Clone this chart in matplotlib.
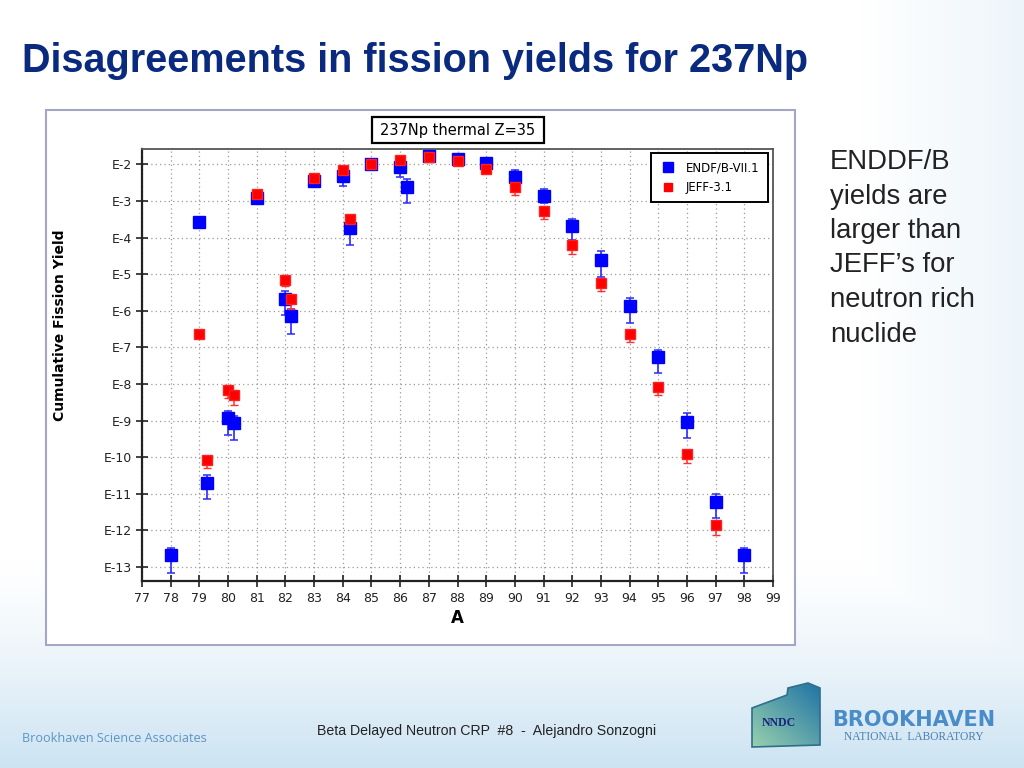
import numpy as np
import matplotlib
matplotlib.use('Agg')
import matplotlib.pyplot as plt
from matplotlib.patches import Rectangle, Polygon
from matplotlib.lines import Line2D
from matplotlib.ticker import FixedLocator, FixedFormatter, NullLocator

# data: mass number A and log10 of cumulative yield
endf_A = [78, 79, 79.25, 80, 80.2, 81, 82, 82.2, 83, 84, 84.25, 85, 86, 86.25,
          87, 88, 89, 90, 91, 92, 93, 94, 95, 96, 97, 98]
endf_logy = [-12.68, -3.57, -10.70, -8.94, -9.06, -2.93, -5.68, -6.14, -2.45, -2.31,
             -3.73, -1.99, -2.07, -2.61, -1.77, -1.84, -1.95, -2.34, -2.87, -3.68,
             -4.61, -5.87, -7.27, -9.03, -11.22, -12.68]
endf_err_lo = [0.49, 0.16, 0.44, 0.44, 0.47, 0.14, 0.44, 0.50, 0.14, 0.27,
               0.48, 0.0, 0.27, 0.45, 0.0, 0.0, 0.05, 0.14, 0.19, 0.38,
               0.46, 0.45, 0.44, 0.45, 0.45, 0.49]
endf_err_hi = [0.19, 0.0, 0.21, 0.21, 0.20, 0.0, 0.22, 0.18, 0.0, 0.0,
               0.0, 0.0, 0.0, 0.21, 0.0, 0.0, 0.0, 0.20, 0.20, 0.20,
               0.25, 0.21, 0.20, 0.23, 0.23, 0.20]

jeff_A = [79, 79.25, 80, 80.2, 81, 82, 82.2, 83, 84, 84.25, 85, 86, 87, 88, 89,
          90, 91, 92, 93, 94, 95, 96, 97]
jeff_logy = [-6.64, -10.08, -8.17, -8.30, -2.82, -5.16, -5.69, -2.36, -2.16, -3.49,
             -1.99, -1.88, -1.81, -1.90, -2.13, -2.63, -3.27, -4.20, -5.23, -6.64,
             -8.09, -9.90, -11.86]
jeff_err_lo = [0.0, 0.22, 0.22, 0.27, 0.05, 0.16, 0.25, 0.05, 0.05, 0.1,
               0.0, 0.0, 0.0, 0.0, 0.05, 0.22, 0.22, 0.25, 0.22, 0.22,
               0.22, 0.25, 0.25]
jeff_err_hi = [0.0, 0.08, 0.08, 0.1, 0.0, 0.08, 0.08, 0.0, 0.0, 0.0,
               0.0, 0.0, 0.0, 0.0, 0.0, 0.08, 0.0, 0.08, 0.08, 0.08,
               0.08, 0.08, 0.08]

decades = list(range(2, 14))
x_ticks = list(range(77, 100))

bullet_lines = ['ENDDF/B', 'yields are', 'larger than', 'JEFF\u2019s for',
                'neutron rich', 'nuclide']


def to_err(logy, lo, hi):
    logy = np.array(logy)
    y = 10.0 ** logy
    return y, [y - 10.0 ** (logy - np.array(lo)), 10.0 ** (logy + np.array(hi)) - y]


W, H = 1024, 768
fig = plt.figure(figsize=(10.24, 7.68), dpi=100)

# slide background in pixel coords
bg = fig.add_axes([0, 0, 1, 1], zorder=-10)
bg.set_xlim(0, W)
bg.set_ylim(H, 0)
bg.axis('off')
yy, xx = np.mgrid[0:H, 0:W]
a_bot = np.clip((yy - 560) / 208.0, 0, 1) ** 1.3
a_right = np.clip((xx - 860) / 164.0, 0, 1) * 0.35
alpha = np.maximum(a_bot, a_right)[..., None]
tint = np.array([0.80, 0.89, 0.95])
grad = (1 - alpha) * np.ones(3) + alpha * tint
bg.imshow(grad, extent=[0, W, H, 0], aspect='auto', zorder=0)

# outer chart frame
bg.add_patch(Rectangle((46, 110), 749, 535, facecolor='white',
                       edgecolor='#a5a5c8', lw=1.5, zorder=1))

# chart title box
bg.add_patch(Rectangle((372, 117), 172, 26, facecolor='white',
                       edgecolor='black', lw=1.6, zorder=2))
bg.text(458, 130, '237Np thermal Z=35', ha='center', va='center',
        fontsize=10.5, family='DejaVu Sans', zorder=3)

# slide title
bg.text(22, 72, 'Disagreements in fission yields for 237Np', fontsize=28.5,
        fontweight='bold', color='#0a2a80', family='Liberation Sans',
        va='baseline', ha='left', zorder=3)

# side note
for i, line in enumerate(bullet_lines):
    bg.text(830, 169 + i * 34.5, line, fontsize=19.8, color='#222222',
            family='Liberation Sans', va='baseline', ha='left', zorder=3)

# axis labels
bg.text(60, 325, 'Cumulative Fission Yield', rotation=90, ha='center',
        va='center', fontsize=10, fontweight='bold', zorder=3)
bg.text(457, 618, 'A', ha='center', va='center', fontsize=12,
        fontweight='bold', zorder=3)

# footer
bg.text(22, 738, 'Brookhaven Science Associates', fontsize=9.1,
        color='#5b96c4', family='Open Sans', va='center', ha='left', zorder=3)
bg.text(317, 731, 'Beta Delayed Neutron CRP  #8  -  Alejandro Sonzogni',
        fontsize=10.2, color='#222222', family='Liberation Sans',
        va='center', ha='left', zorder=3)

# NNDC logo
house = [(752, 747), (752, 708), (787, 695), (788, 688), (808, 683),
         (820, 688), (820, 745)]
poly = Polygon(house, closed=True, facecolor='none', edgecolor='#2f6f8c',
               lw=1.2, zorder=4)
bg.add_patch(poly)
gy, gx = np.mgrid[0:60, 0:70]
g = np.clip((gx / 70.0 - gy / 60.0 + 1) / 2.0, 0, 1)[..., None]
c1 = np.array([0.60, 0.82, 0.68])
c2 = np.array([0.12, 0.45, 0.65])
logo = (1 - g) * c1 + g * c2
im = bg.imshow(logo, extent=[752, 820, 747, 683], aspect='auto', zorder=3)
im.set_clip_path(poly)
bg.text(779, 723, 'NNDC', fontsize=8.5, fontweight='bold', color='#1a237e',
        family='Liberation Serif', ha='center', va='center', zorder=5)
bg.text(914, 720, 'BROOKHAVEN', fontsize=15, fontweight='bold',
        color='#4a8cc8', family='DejaVu Sans', ha='center', va='center', zorder=5)
bg.text(914, 737, 'NATIONAL  LABORATORY', fontsize=8.3, color='#4a7fb0',
        family='Liberation Serif', ha='center', va='center', zorder=5)

# main plot
ax = fig.add_axes([142 / W, 1 - 581 / H, 631 / W, 432 / H])
ax.set_facecolor('white')
ax.set_yscale('log')
ax.set_xlim(77, 99)
ax.set_ylim(10 ** -13.38, 10 ** -1.58)

ey, eerr = to_err(endf_logy, endf_err_lo, endf_err_hi)
jy, jerr = to_err(jeff_logy, jeff_err_lo, jeff_err_hi)
ax.errorbar(endf_A, ey, yerr=eerr, fmt='s', color='#0000ff', ms=8.5,
            mec='#0000ff', ecolor='#2a2aff', elinewidth=1.2, capsize=3,
            capthick=1.1, zorder=3)
ax.errorbar(jeff_A, jy, yerr=jerr, fmt='s', color='#ff0000', ms=7,
            mec='#ff2020', ecolor='#ff3030', elinewidth=1.1, capsize=2.6,
            capthick=1.0, zorder=4)

ax.yaxis.set_major_locator(FixedLocator([10.0 ** -d for d in decades]))
ax.yaxis.set_major_formatter(FixedFormatter(['E-%d' % d for d in decades]))
ax.yaxis.set_minor_locator(NullLocator())
ax.set_xticks(x_ticks)
ax.set_xticklabels([str(v) for v in x_ticks])
ax.tick_params(axis='both', direction='inout', length=8, width=1.2,
               labelsize=9, color='#222222', labelcolor='#222222')
ax.tick_params(axis='y', pad=3)
ax.tick_params(axis='x', pad=4)
ax.grid(True, which='major', color='#9a9a9a', linestyle=(0, (1, 2.5)), lw=0.9)
for side in ['left', 'bottom']:
    ax.spines[side].set_linewidth(1.6)
    ax.spines[side].set_color('#222222')
for side in ['top', 'right']:
    ax.spines[side].set_linewidth(1.3)
    ax.spines[side].set_color('#555555')

handles = [Line2D([], [], marker='s', ls='none', color='#0000ff', ms=7),
           Line2D([], [], marker='s', ls='none', color='#ff0000', ms=5.5)]
leg = ax.legend(handles, ['ENDF/B-VII.1', 'JEFF-3.1'], loc='upper right',
                bbox_to_anchor=(0.992, 0.991), borderaxespad=0, fontsize=8.5,
                fancybox=False, framealpha=1, edgecolor='black',
                borderpad=0.7, handletextpad=0.7, labelspacing=0.6,
                handlelength=1.6)
leg.get_frame().set_linewidth(1.4)

fig.savefig('out.png', dpi=100)
